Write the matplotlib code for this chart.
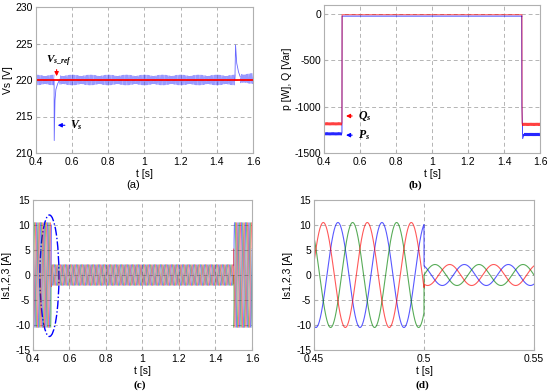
import numpy as np
import matplotlib.pyplot as plt
from matplotlib.patches import Ellipse

plt.rcParams['font.family'] = ['Liberation Sans', 'DejaVu Sans']
plt.rcParams['font.size'] = 7.5
plt.rcParams['axes.unicode_minus'] = False
plt.rcParams['mathtext.fontset'] = 'custom'
plt.rcParams['mathtext.it'] = 'Liberation Serif:italic:bold'
plt.rcParams['mathtext.rm'] = 'Liberation Serif:bold'

# ---- values ----
t_edges = [0.4, 0.5, 1.5, 1.6]          # load switching instants
f_grid = 50.0                           # Hz

# (a) supply voltage
vs_ref = 220.0
vs_ripple = [0.55, 0.15]                # ripple components (V)
vs_ripple_hz = [140.0, 410.0]
vs_dip_t = [0.5, 0.5008, 0.5050, 0.510, 0.520, 0.530]
vs_dip_v = [220.0, 211.7, 217.2, 218.7, 219.5, 220.0]
vs_rise_t = [1.5, 1.5035, 1.510, 1.520, 1.530]
vs_rise_v = [220.0, 224.8, 222.3, 221.1, 220.4]
vs_offset = [0.0, 0.0, 0.2]             # mean offset per segment

# (b) active / reactive power, level per segment
q_level = [-1185.0, -5.0, -1190.0]
p_level = [-1293.0, -20.0, -1300.0]
pq_ripple = 14.0
pq_ripple_hz = 150.0
p_step_t = [1.4985, 1.4990, 1.4995, 1.5040, 1.5100]
p_step_v = [-20.0, -880.0, -990.0, -1345.0, -1300.0]

# (c)/(d) phase currents: amplitude and phase-1 angle at segment start
i_amp = [10.5, 2.1, 10.5]
i_phase_deg = [104.0, 150.0, 60.0]
phase_colors = ['blue', 'green', 'red']
phase_shift_deg = [-120.0, -240.0, 0.0]

xt_main = [0.4, 0.6, 0.8, 1.0, 1.2, 1.4, 1.6]
xt_main_lbl = ['0.4', '0.6', '0.8', '1', '1.2', '1.4', '1.6']
xt_zoom = [0.45, 0.5, 0.55]
xt_zoom_lbl = ['0.45', '0.5', '0.55']

fig = plt.figure(figsize=(5.5, 3.91), dpi=100)


def style(ax):
    ax.grid(True, linestyle=(0, (4, 3)), color='#b4b4b4', lw=0.7)
    for s in ax.spines.values():
        s.set_color('#b0b0b0')
        s.set_linewidth(0.8)
    ax.tick_params(direction='in', length=2.5, color='#b0b0b0', pad=2)
    ax.tick_params(axis='x', pad=3)


def segment_time(k, fs=20000):
    return np.arange(t_edges[k], t_edges[k + 1], 1.0 / fs)


# ---------------- (a) ----------------
ax = fig.add_axes([36 / 550, 1 - 153 / 391, 217 / 550, 146 / 391])
for k in range(3):
    t = segment_time(k, 8000)
    v = vs_ref + vs_offset[k] + sum(a * np.cos(2 * np.pi * f * t) for a, f in zip(vs_ripple, vs_ripple_hz))
    v[(t > vs_dip_t[0]) & (t < vs_dip_t[-1])] = np.nan
    v[(t > vs_rise_t[0]) & (t < vs_rise_t[-1])] = np.nan
    ax.plot(t, v, color='blue', lw=0.5, alpha=0.4)
ax.plot(vs_dip_t, vs_dip_v, color='blue', lw=0.6, alpha=0.6)
ax.plot(vs_rise_t, vs_rise_v, color='blue', lw=0.6, alpha=0.6)
ax.plot([t_edges[0], t_edges[-1]], [vs_ref, vs_ref], color='red', lw=1.3)
ax.set_xlim(0.4, 1.6)
ax.set_ylim(210, 230)
ax.set_yticks([210, 215, 220, 225, 230])
ax.set_xticks(xt_main)
ax.set_xticklabels(xt_main_lbl)
ax.set_xlabel('t [s]', labelpad=1)
ax.set_ylabel('Vs [V]', labelpad=2)
style(ax)
ax.annotate('', xy=(0.514, 220.15), xytext=(0.514, 221.8),
            arrowprops=dict(arrowstyle='-|>', color='red', lw=0.8, mutation_scale=6))
ax.text(0.458, 222.6, r'$V_{s\_ref}$', fontsize=8, va='center')
ax.annotate('', xy=(0.505, 213.8), xytext=(0.575, 213.8),
            arrowprops=dict(arrowstyle='-|>', color='blue', lw=0.8, mutation_scale=6))
ax.text(0.588, 213.8, r'$V_s$', fontsize=8.5, va='center')

# ---------------- (b) ----------------
ax = fig.add_axes([324 / 550, 1 - 153 / 391, 216 / 550, 148 / 391])
pt, pv, qt, qv = [], [], [], []
for k in range(3):
    t = segment_time(k, 4000)
    rip = np.cos(2 * np.pi * pq_ripple_hz * t) if k != 1 else np.zeros_like(t)
    p = p_level[k] + pq_ripple * rip
    if k == 2:
        keep = t >= p_step_t[-1]
        t_p = np.concatenate([p_step_t, t[keep]])
        p = np.concatenate([p_step_v, p[keep]])
    else:
        t_p = t
    pt.append(t_p)
    pv.append(p)
    qt.append(t)
    qv.append(q_level[k] + pq_ripple * rip)
ax.plot(np.concatenate(pt), np.concatenate(pv), color='blue', lw=0.6, alpha=0.85)
ax.plot(np.concatenate(qt), np.concatenate(qv), color='red', lw=0.6, alpha=0.75)
ax.set_xlim(0.4, 1.6)
ax.set_ylim(-1500, 100)
ax.set_yticks([-1500, -1000, -500, 0])
ax.set_xticks(xt_main)
ax.set_xticklabels(xt_main_lbl)
ax.set_xlabel('t [s]', labelpad=1)
ax.set_ylabel('p [W], Q [Var]', labelpad=2)
style(ax)
ax.annotate('', xy=(0.507, -1100), xytext=(0.572, -1100),
            arrowprops=dict(arrowstyle='-|>', color='red', lw=0.8, mutation_scale=6))
ax.text(0.587, -1100, r'$Q_s$', fontsize=8.5, va='center')
ax.annotate('', xy=(0.507, -1307), xytext=(0.572, -1307),
            arrowprops=dict(arrowstyle='-|>', color='blue', lw=0.8, mutation_scale=6))
ax.text(0.587, -1307, r'$P_s$', fontsize=8.5, va='center')


def currents(fs):
    ts, ys = [], [[], [], []]
    for k in range(3):
        t = segment_time(k, fs)
        th = 2 * np.pi * f_grid * (t - t_edges[k]) + np.deg2rad(i_phase_deg[k])
        ts.append(t)
        for j in range(3):
            ys[j].append(i_amp[k] * np.cos(th + np.deg2rad(phase_shift_deg[j])))
    return np.concatenate(ts), [np.concatenate(y) for y in ys]


# ---------------- (c) ----------------
ax = fig.add_axes([33 / 550, 1 - 350 / 391, 219 / 550, 150 / 391])
t, ys = currents(20000)
for j in range(3):
    ax.plot(t, ys[j], color=phase_colors[j], lw=0.45, alpha=0.5)
ax.add_patch(Ellipse((0.49, -0.15), 0.104, 24.3, fill=False, edgecolor='blue',
                     linestyle='-.', lw=1.0))
ax.set_xlim(0.4, 1.6)
ax.set_ylim(-15, 15)
ax.set_yticks([-15, -10, -5, 0, 5, 10, 15])
ax.set_xticks(xt_main)
ax.set_xticklabels(xt_main_lbl)
ax.set_xlabel('t [s]', labelpad=1)
ax.set_ylabel('Is1,2,3 [A]', labelpad=2)
style(ax)

# ---------------- (d) ----------------
ax = fig.add_axes([314 / 550, 1 - 350 / 391, 220 / 550, 150 / 391])
t, ys = currents(50000)
for j in range(3):
    ax.plot(t, ys[j], color=phase_colors[j], lw=0.8, alpha=0.65)
ax.set_xlim(0.45, 0.55)
ax.set_ylim(-15, 15)
ax.set_yticks([-15, -10, -5, 0, 5, 10, 15])
ax.set_xticks(xt_zoom)
ax.set_xticklabels(xt_zoom_lbl)
ax.set_xlabel('t [s]', labelpad=1)
ax.set_ylabel('Is1,2,3 [A]', labelpad=2)
style(ax)

lbl = dict(family='Liberation Serif', fontsize=8, fontweight='bold', ha='center', va='center')
fig.text(133 / 550, 1 - 185 / 391, '(a)', family='Liberation Sans', fontsize=8, ha='center', va='center')
fig.text(415 / 550, 1 - 185 / 391, '(b)', **lbl)
fig.text(140 / 550, 1 - 385 / 391, '(c)', **lbl)
fig.text(422 / 550, 1 - 385 / 391, '(d)', **lbl)

fig.savefig('out.png', dpi=100)
